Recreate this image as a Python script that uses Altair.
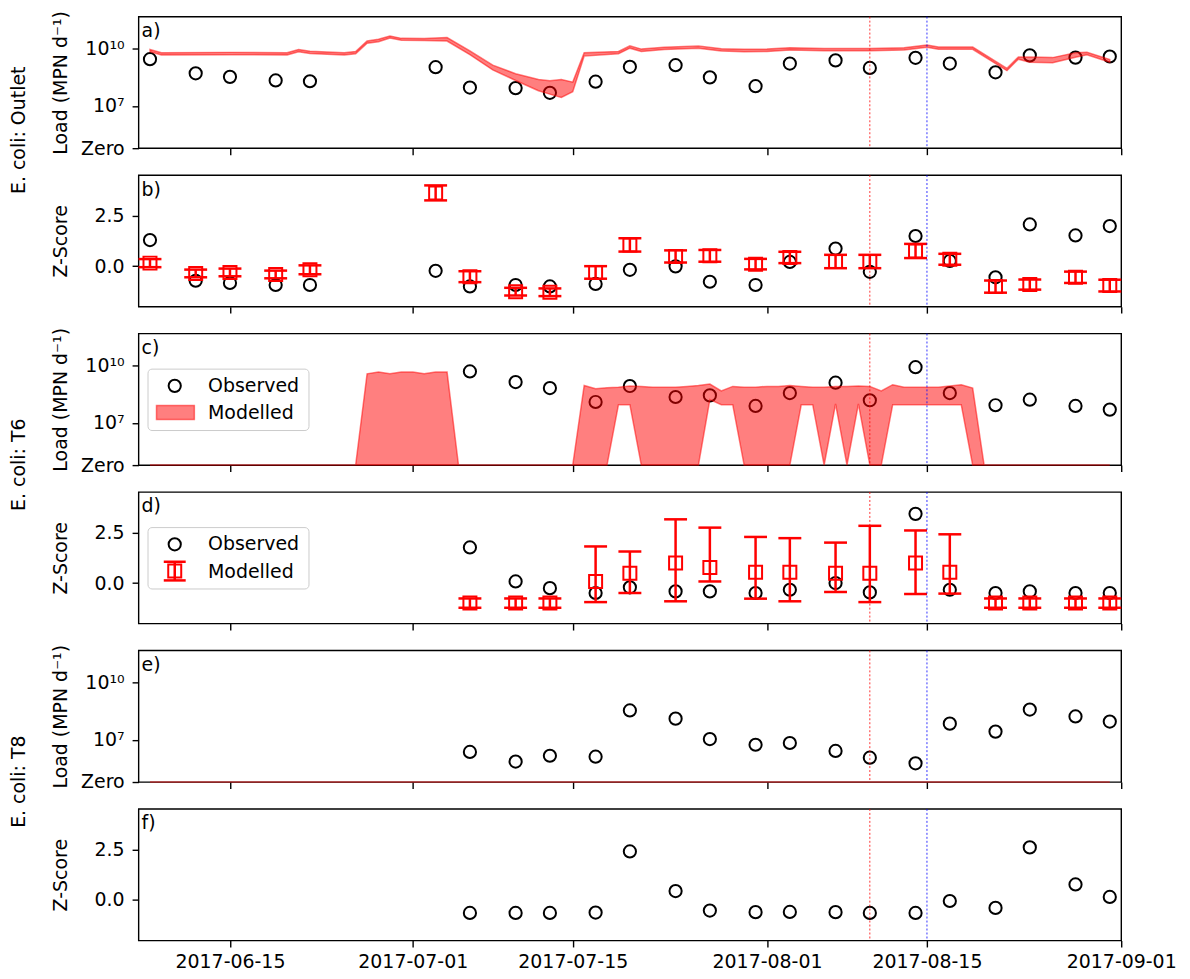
import altair as alt
import numpy as np
import pandas as pd

FONT = "DejaVu Sans"
FS = 19
FLOOR, TOP = 4.78, 11.7      # log10 range of the load axes; the bottom is labelled "Zero"
ZMIN, ZMAX = -2.0, 4.5
W, H = 986, 132

# ---------------- data ----------------
obs_dates = ["2017-06-08", "2017-06-12", "2017-06-15", "2017-06-19", "2017-06-22",
             "2017-07-03", "2017-07-06", "2017-07-10", "2017-07-13", "2017-07-17",
             "2017-07-20", "2017-07-24", "2017-07-27", "2017-07-31", "2017-08-03",
             "2017-08-07", "2017-08-10", "2017-08-14", "2017-08-17", "2017-08-21",
             "2017-08-24", "2017-08-28", "2017-08-31"]
t_dates = obs_dates[6:]

# observed loads (MPN/d)
outlet_obs_load = [2.9e9, 5.2e8, 3.4e8, 2.2e8, 2.0e8, 1.1e9, 9.3e7, 8.7e7, 4.9e7, 1.9e8,
                   1.15e9, 1.4e9, 3.2e8, 1.1e8, 1.7e9, 2.5e9, 1.0e9, 3.4e9, 1.7e9, 5.9e8,
                   4.6e9, 3.5e9, 4.0e9]
t6_obs_load = [5.1e9, 1.4e9, 6.8e8, 1.26e8, 8.7e8, 2.3e8, 2.8e8, 7.8e7, 3.7e8, 1.3e9,
               1.55e8, 8.5e9, 3.7e8, 8.5e7, 1.66e8, 7.8e7, 5.0e7]
t8_obs_load = [2.3e6, 7.2e5, 1.45e6, 1.3e6, 3.5e8, 1.3e8, 1.1e7, 5.5e6, 6.8e6, 2.6e6,
               1.15e6, 5.8e5, 7.1e7, 2.7e7, 3.9e8, 1.7e8, 9.1e7]

# observed z-scores
outlet_obs_z = [1.29, -0.72, -0.83, -0.93, -0.93, -0.23, -1.0, -0.93, -1.0, -0.88,
                -0.18, -0.01, -0.77, -0.93, 0.21, 0.87, -0.28, 1.49, 0.26, -0.55,
                2.06, 1.52, 1.98]
t6_obs_z = [1.76, 0.08, -0.25, -0.49, -0.21, -0.41, -0.41, -0.49, -0.33, 0.0,
            -0.46, 3.42, -0.33, -0.49, -0.41, -0.49, -0.49]
t8_obs_z = [-0.64, -0.64, -0.64, -0.62, 2.40, 0.44, -0.52, -0.60, -0.59, -0.60,
            -0.64, -0.64, -0.05, -0.39, 2.60, 0.77, 0.15]

# modelled z-scores (marker, lower and upper error)
outlet_mod_z = [0.15, -0.36, -0.31, -0.41, -0.18, 3.62, -0.52, -1.26, -1.29, -0.31,
                1.05, 0.48, 0.51, 0.10, 0.43, 0.23, 0.23, 0.75, 0.34, -1.01,
                -0.91, -0.55, -0.96]
outlet_mod_z_lo = [-0.05, -0.55, -0.50, -0.60, -0.40, 3.25, -0.79, -1.45, -1.48, -0.62,
                   0.72, 0.18, 0.22, -0.16, 0.15, -0.10, -0.10, 0.40, 0.07, -1.31,
                   -1.16, -0.83, -1.25]
outlet_mod_z_hi = [0.35, -0.17, -0.12, -0.22, 0.04, 3.99, -0.25, -1.07, -1.10, 0.00,
                   1.38, 0.78, 0.80, 0.36, 0.71, 0.56, 0.56, 1.10, 0.61, -0.71,
                   -0.66, -0.27, -0.67]
t6_mod_z = [-0.99, -0.99, -0.99, 0.08, 0.49, 0.99, 0.77, 0.54, 0.54, 0.49,
            0.49, 0.99, 0.54, -0.99, -0.99, -0.99, -0.99]
t6_mod_z_lo = [-1.22, -1.22, -1.22, -0.94, -0.49, -0.90, 0.08, -0.77, -0.90, -0.44,
               -0.94, -0.54, -0.52, -1.22, -1.22, -1.22, -1.22]
t6_mod_z_hi = [-0.76, -0.76, -0.76, 1.81, 1.56, 3.15, 2.74, 2.28, 2.22, 2.00,
               2.83, 2.60, 2.41, -0.76, -0.76, -0.76, -0.76]

# modelled load bands (MPN/d, 0 = zero load)
outlet_model_dates = ["2017-06-08", "2017-06-09", "2017-06-15", "2017-06-20", "2017-06-21",
                      "2017-06-22", "2017-06-25", "2017-06-26", "2017-06-27", "2017-06-28",
                      "2017-06-29", "2017-06-30", "2017-07-02", "2017-07-04", "2017-07-06",
                      "2017-07-08", "2017-07-10", "2017-07-12", "2017-07-13", "2017-07-14",
                      "2017-07-15", "2017-07-16", "2017-07-19", "2017-07-20", "2017-07-21",
                      "2017-07-23", "2017-07-26", "2017-07-28", "2017-07-30", "2017-08-01",
                      "2017-08-03", "2017-08-06", "2017-08-10", "2017-08-13", "2017-08-15",
                      "2017-08-16", "2017-08-19", "2017-08-22", "2017-08-23", "2017-08-24",
                      "2017-08-26", "2017-08-28", "2017-08-29", "2017-08-31"]
outlet_model_hi = [9.3e9, 6.3e9, 6.6e9, 6.3e9, 9.3e9, 7.6e9, 6.3e9, 7.4e9, 2.6e10, 3.2e10,
                   4.8e10, 3.6e10, 3.5e10, 4.0e10, 7.9e9, 1.4e9, 5.0e8, 2.5e8, 2.1e8, 2.5e8,
                   1.8e8, 6.3e9, 7.4e9, 1.45e10, 9.8e9, 1.23e10, 1.45e10, 1.02e10, 9.5e9, 9.8e9,
                   1.15e10, 1.07e10, 1.07e10, 1.15e10, 1.62e10, 1.26e10, 1.26e10, 9.5e8, 3.8e9, 3.8e9,
                   3.5e9, 6.3e9, 6.6e9, 2.8e9]
outlet_model_lo = [7.1e9, 4.8e9, 5.0e9, 4.8e9, 7.1e9, 5.8e9, 4.8e9, 5.6e9, 2.0e10, 2.4e10,
                   3.8e10, 2.9e10, 2.8e10, 2.6e10, 5.0e9, 7.9e8, 2.2e8, 6.3e7, 4.2e7, 2.8e7,
                   5.6e7, 4.2e9, 5.6e9, 1.1e10, 7.4e9, 9.3e9, 1.1e10, 7.8e9, 7.2e9, 7.4e9,
                   8.7e9, 8.1e9, 8.1e9, 8.7e9, 1.23e10, 9.6e9, 9.6e9, 7.2e8, 2.9e9, 2.0e9,
                   1.9e9, 3.7e9, 5.0e9, 2.0e9]

t6_model_dates = (["2017-06-08", "2017-06-26", "2017-06-27", "2017-06-28", "2017-06-29",
                   "2017-06-30", "2017-07-01", "2017-07-02", "2017-07-03", "2017-07-04",
                   "2017-07-05", "2017-07-15"]
                  + ["2017-07-%02d" % d for d in range(16, 32)]
                  + ["2017-08-%02d" % d for d in range(1, 21)]
                  + ["2017-08-31"])
t6_model_hi = ([0, 0, 3.8e9, 4.7e9, 3.8e9, 4.7e9, 4.7e9, 3.8e9, 4.7e9, 4.7e9, 0, 0]
               + [9.3e8, 6.3e8, 7.1e8, 7.6e8, 8.7e8, 8.3e8, 7.6e8, 7.6e8, 7.6e8, 8.3e8,
                  9.3e8, 1.1e9, 4.8e8, 8.3e8, 7.6e8, 7.6e8, 8.3e8, 8.3e8, 9.3e8, 8.3e8,
                  7.6e8, 7.6e8, 8.3e8, 8.3e8, 8.7e8, 8.3e8, 4.8e8, 1.02e9, 7.6e8, 7.6e8,
                  7.6e8, 7.6e8, 8.7e8, 1.02e9, 6.8e8]
               + [0, 0])
t6_model_lo = ([0] * 12
               + [0, 0, 0, 9.1e7, 9.1e7, 0, 0, 0, 0, 0,
                  0, 1.7e8, 9.1e7, 9.1e7, 0, 0, 0, 0, 0, 9.1e7,
                  9.1e7, 0, 1.0e8, 0, 1.0e8, 0, 0, 9.1e7, 9.1e7, 9.1e7,
                  9.1e7, 9.1e7, 9.1e7, 9.1e7, 0]
               + [0, 0])

t8_model_dates = ["2017-06-08", "2017-08-31"]
t8_model_hi = [0, 0]
t8_model_lo = [0, 0]

event_dates = ["2017-08-10", "2017-08-15"]
event_colors = ["red", "blue"]

tick_dates = [(6, 15), (7, 1), (7, 15), (8, 1), (8, 15), (9, 1)]
panel_letters = ["a)", "b)", "c)", "d)", "e)", "f)"]
site_labels = ["E. coli: Outlet", "E. coli: T6", "E. coli: T8"]


# ---------------- helpers ----------------
def lg(v):
    v = np.asarray(v, dtype=float)
    out = np.full(v.shape, FLOOR)
    pos = v > 0
    out[pos] = np.log10(v[pos])
    return out


def xenc(labels):
    return alt.X(
        "date:T",
        scale=alt.Scale(domain=[alt.DateTime(year=2017, month=6, date=7),
                                alt.DateTime(year=2017, month=9, date=1)]),
        axis=alt.Axis(values=[alt.DateTime(year=2017, month=m, date=d) for m, d in tick_dates],
                      format="%Y-%m-%d", labels=labels, title=None, grid=False, domain=False,
                      tickSize=6.5, tickWidth=1.4, tickColor="black",
                      labelFontSize=FS, labelFont=FONT, labelColor="black", labelPadding=6,
                      labelFlush=False, labelOverlap=False))


YAX = dict(grid=False, domain=False, tickSize=6.5, tickWidth=1.4, tickColor="black",
           labelFontSize=FS, labelFont=FONT, labelColor="black", labelPadding=8,
           labelOverlap=False, labelFlush=False, titleFontSize=FS, titleFont=FONT,
           titleFontWeight="normal", titleColor="black", titleX=-78, titleY=H / 2,
           titleAngle=270, titleAlign="center", titleBaseline="middle")


def y_load(field):
    return alt.Y(f"{field}:Q", scale=alt.Scale(domain=[FLOOR, TOP], nice=False, zero=False),
                 axis=alt.Axis(values=[FLOOR, 7, 10],
                               labelExpr="datum.value < 5 ? 'Zero' : (datum.value < 8 ? '10⁷' : '10¹⁰')",
                               title="Load (MPN d⁻¹)", **YAX))


def y_z(field):
    return alt.Y(f"{field}:Q", scale=alt.Scale(domain=[ZMIN, ZMAX], nice=False, zero=False),
                 axis=alt.Axis(values=[0, 2.5], format=".1f", title="Z-Score", **YAX))


def dates(lst):
    return pd.to_datetime(lst)


def obs_layer(dts, vals, yfun, xe):
    df = pd.DataFrame({"date": dates(dts), "v": vals})
    return alt.Chart(df).mark_point(shape="circle", filled=False, color="black", size=150,
                                    strokeWidth=2, opacity=1).encode(x=xe, y=yfun("v"))


def band_layer(dts, hi, lo, xe):
    df = pd.DataFrame({"date": dates(dts), "hi": lg(hi), "lo": lg(lo)})
    return alt.Chart(df).mark_area(fill="red", fillOpacity=0.5, stroke="red", strokeOpacity=0.5,
                                   strokeWidth=1.5, interpolate="linear").encode(
        x=xe, y=y_load("hi"), y2=alt.Y2("lo"))


def errbar_layers(dts, mid, lo, hi, xe):
    df = pd.DataFrame({"date": dates(dts), "mid": mid, "lo": lo, "hi": hi})
    base = alt.Chart(df)
    bar = base.mark_rule(color="red", strokeWidth=2.5).encode(x=xe, y=y_z("lo"), y2=alt.Y2("hi"))
    caps = [base.mark_rule(color="red", strokeWidth=2.5, xOffset=-11.5, x2Offset=11.5).encode(
        x=xe, x2=alt.X2("date"), y=y_z(f)) for f in ("lo", "hi")]
    sq = base.mark_point(shape="square", filled=False, color="red", size=170, strokeWidth=2,
                         opacity=1).encode(x=xe, y=y_z("mid"))
    return [bar] + caps + [sq]


def event_layer(xe):
    df = pd.DataFrame({"date": dates(event_dates), "c": event_colors})
    return alt.Chart(df).mark_rule(strokeDash=[2, 2], strokeWidth=1, opacity=0.8).encode(
        x=xe, color=alt.Color("c:N", scale=None))


def text_layer(txt, x, y, **kw):
    df = pd.DataFrame({"t": [txt]})
    return alt.Chart(df).mark_text(font=FONT, fontSize=FS, color="black", **kw).encode(
        x=alt.value(x), y=alt.value(y), text="t:N")


def legend_layers(kind):
    one = pd.DataFrame({"k": [0]})
    out = [alt.Chart(one).mark_rect(fill="white", fillOpacity=0.8, stroke="#cccccc", strokeWidth=1,
                                    cornerRadius=4).encode(
        x=alt.value(9.5), x2=alt.value(171), y=alt.value(35.7), y2=alt.value(97.3)),
        alt.Chart(one).mark_point(shape="circle", filled=False, color="black", size=150,
                                  strokeWidth=2, opacity=1).encode(x=alt.value(36.3), y=alt.value(52.5)),
        text_layer("Observed", 69.7, 58.5, align="left", baseline="alphabetic"),
        text_layer("Modelled", 69.7, 85.8, align="left", baseline="alphabetic")]
    if kind == "area":
        out.append(alt.Chart(one).mark_rect(fill="red", fillOpacity=0.5, stroke="red",
                                            strokeOpacity=0.5, strokeWidth=1.5).encode(
            x=alt.value(18), x2=alt.value(56), y=alt.value(72.3), y2=alt.value(86.3)))
    else:
        out.append(alt.Chart(one).mark_rule(color="red", strokeWidth=2.5).encode(
            x=alt.value(36.3), y=alt.value(70), y2=alt.value(88.7)))
        for yy in (70, 88.7):
            out.append(alt.Chart(one).mark_rule(color="red", strokeWidth=2.5).encode(
                x=alt.value(25.3), x2=alt.value(47.3), y=alt.value(yy)))
        out.append(alt.Chart(one).mark_point(shape="square", filled=False, color="red", size=170,
                                             strokeWidth=2, opacity=1).encode(
            x=alt.value(36.3), y=alt.value(79.3)))
    return out


def site_label(txt):
    return text_layer(txt, -113.5, 19, align="left", baseline="alphabetic", angle=270)


# ---------------- panels ----------------
panels = []

xa = xenc(False)
panels.append(alt.layer(
    obs_layer(obs_dates, lg(outlet_obs_load), y_load, xa),
    band_layer(outlet_model_dates, outlet_model_hi, outlet_model_lo, xa),
    event_layer(xa),
    text_layer(panel_letters[0], 3, 20.5, align="left", baseline="alphabetic"),
).properties(width=W, height=H))

panels.append(alt.layer(
    obs_layer(obs_dates, outlet_obs_z, y_z, xa),
    *errbar_layers(obs_dates, outlet_mod_z, outlet_mod_z_lo, outlet_mod_z_hi, xa),
    event_layer(xa),
    text_layer(panel_letters[1], 3, 20.5, align="left", baseline="alphabetic"),
    site_label(site_labels[0]),
).properties(width=W, height=H))

panels.append(alt.layer(
    obs_layer(t_dates, lg(t6_obs_load), y_load, xa),
    band_layer(t6_model_dates, t6_model_hi, t6_model_lo, xa),
    event_layer(xa),
    *legend_layers("area"),
    text_layer(panel_letters[2], 3, 20.5, align="left", baseline="alphabetic"),
).properties(width=W, height=H))

panels.append(alt.layer(
    obs_layer(t_dates, t6_obs_z, y_z, xa),
    *errbar_layers(t_dates, t6_mod_z, t6_mod_z_lo, t6_mod_z_hi, xa),
    event_layer(xa),
    *legend_layers("err"),
    text_layer(panel_letters[3], 3, 20.5, align="left", baseline="alphabetic"),
    site_label(site_labels[1]),
).properties(width=W, height=H))

panels.append(alt.layer(
    obs_layer(t_dates, lg(t8_obs_load), y_load, xa),
    band_layer(t8_model_dates, t8_model_hi, t8_model_lo, xa),
    event_layer(xa),
    text_layer(panel_letters[4], 3, 20.5, align="left", baseline="alphabetic"),
).properties(width=W, height=H))

xf = xenc(True)
panels.append(alt.layer(
    obs_layer(t_dates, t8_obs_z, y_z, xf),
    event_layer(xf),
    text_layer(panel_letters[5], 3, 20.5, align="left", baseline="alphabetic"),
    site_label(site_labels[2]),
).properties(width=W, height=H))

chart = alt.VConcatChart(vconcat=panels, spacing=27, bounds="flush").properties(
    padding={"left": 1, "top": 0, "right": 5, "bottom": 5}
).configure(font=FONT).configure_view(stroke="black", strokeWidth=1.4)

chart.save("out.html", embed_options={"renderer": "svg", "actions": False})
